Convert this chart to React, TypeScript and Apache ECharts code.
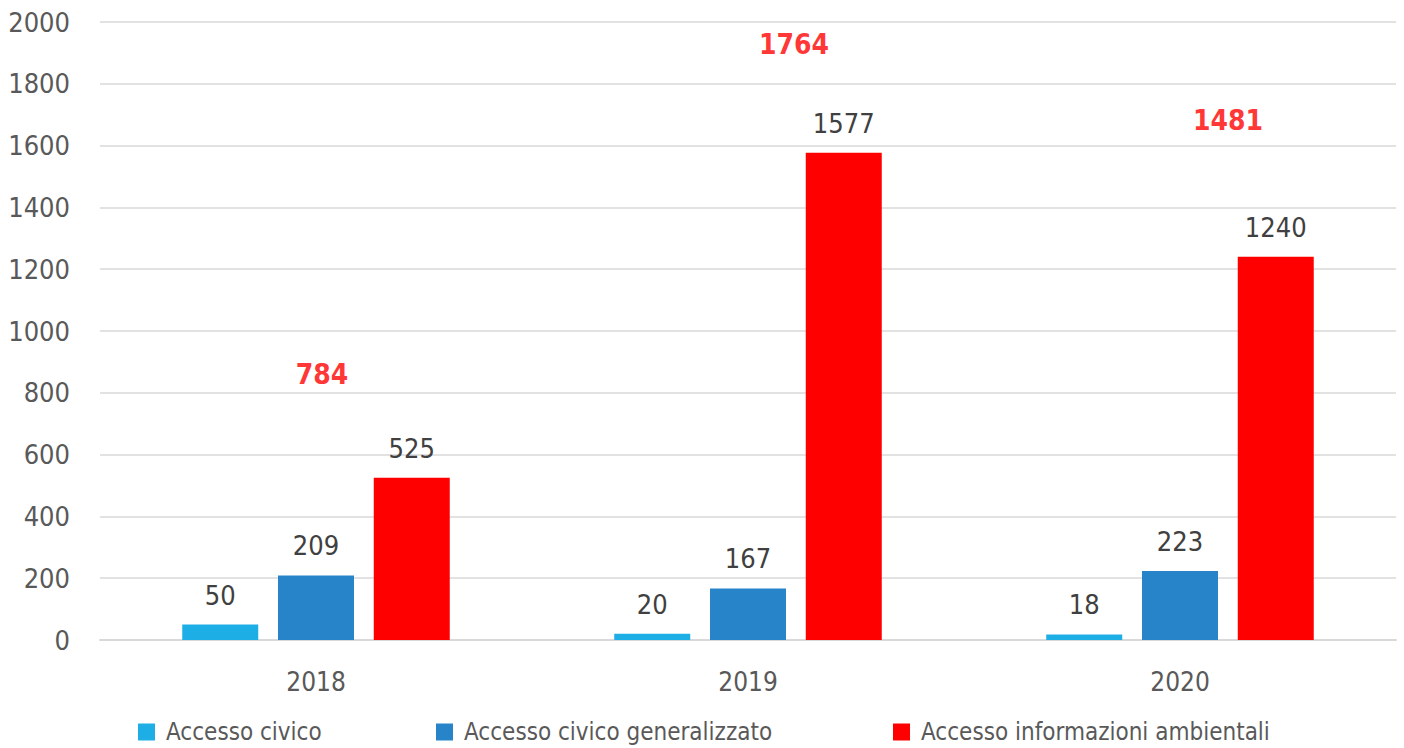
import React, { useEffect, useRef } from "react";
import * as echarts from "echarts";

const years = ["2018", "2019", "2020"];
const seriesNames = [
  "Accesso civico",
  "Accesso civico generalizzato",
  "Accesso informazioni ambientali",
];
const civico = [50, 20, 18];
const generalizzato = [209, 167, 223];
const ambientali = [525, 1577, 1240];
const totals = [784, 1764, 1481];
const totalOffsets = [
  [6, -23],
  [46, -50],
  [48, -62],
];
const colors = ["#1EAEE6", "#2884C9", "#FF0000"];

const FONT = "'DejaVu Sans Condensed', 'Liberation Sans Narrow', sans-serif";

export default function App() {
  const ref = useRef<HTMLDivElement>(null);
  useEffect(() => {
    if (!ref.current) return;
    const chart = echarts.init(ref.current, undefined, { renderer: "svg" });
    const labelStyle = {
      show: true,
      position: "top" as const,
      distance: 16,
      color: "#404040",
      fontSize: 27,
      fontFamily: FONT,
    };
    const barSeries = [civico, generalizzato, ambientali].map((d, i) => ({
      name: seriesNames[i],
      type: "bar",
      data: d,
      barWidth: 76,
      barGap: "26%",
      itemStyle: { color: colors[i] },
      label: labelStyle,
    }));
    const legendLefts = [138, 436, 893];
    chart.setOption({
      animation: false,
      grid: {
        left: 100,
        right: 8,
        top: 22,
        bottom: 108,
        containLabel: false,
        outerBoundsMode: "none",
      },
      legend: seriesNames.map((n, i) => ({
        data: [n],
        left: legendLefts[i],
        top: 720,
        padding: 0,
        itemWidth: 17,
        itemHeight: 17,
        icon: "rect",
        textStyle: {
          color: "#595959",
          fontSize: 24,
          fontFamily: FONT,
          padding: [0, 0, 0, 6],
        },
      })),
      xAxis: {
        type: "category",
        data: years,
        axisTick: { show: false },
        axisLine: { lineStyle: { color: "#D9D9D9", width: 2 } },
        axisLabel: {
          color: "#595959",
          fontSize: 26,
          fontFamily: FONT,
          margin: 29,
        },
      },
      yAxis: {
        type: "value",
        min: 0,
        max: 2000,
        interval: 200,
        axisLine: { show: false },
        axisTick: { show: false },
        splitLine: { lineStyle: { color: "#D9D9D9", width: 1.5 } },
        axisLabel: {
          color: "#595959",
          fontSize: 27,
          fontFamily: FONT,
          margin: 30,
          formatter: (v: number) => String(v),
        },
      },
      series: [
        ...barSeries,
        {
          name: "Totale",
          type: "scatter",
          symbolSize: 0,
          silent: true,
          z: 5,
          data: totals.map((v, i) => ({
            value: [years[i], v],
            label: {
              show: true,
              position: "inside",
              offset: totalOffsets[i],
              formatter: String(v),
              color: "#FF0000",
              fontWeight: "bold",
              fontSize: 28,
              fontFamily: FONT,
            },
          })),
        },
      ],
    });
    return () => chart.dispose();
  }, []);
  return (
    <div
      ref={ref}
      style={{ position: "fixed", left: 0, top: 0, width: 1404, height: 748, background: "#fff" }}
    />
  );
}
